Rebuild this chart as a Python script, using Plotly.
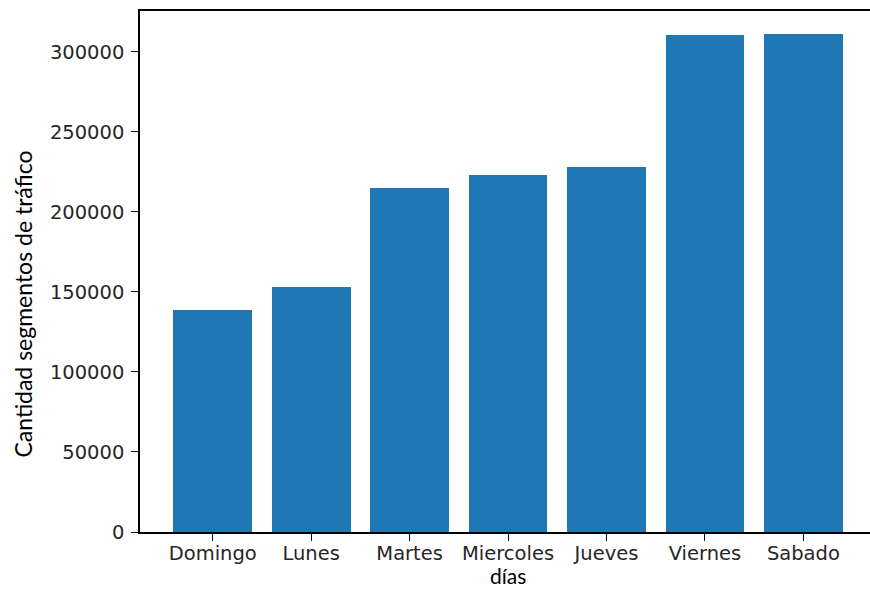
import plotly.graph_objects as go

# Traffic segments counted per weekday
dias = ["Domingo", "Lunes", "Martes", "Miercoles", "Jueves", "Viernes", "Sabado"]
segmentos = [138850, 153030, 214680, 222800, 228170, 310430, 311240]
y_ticks = [0, 50000, 100000, 150000, 200000, 250000, 300000]

W, H = 870, 590
left, right, top, bottom = 139.5, 0, 11, 58
plot_h = H - top - bottom

fig = go.Figure(
    go.Bar(
        x=list(range(len(dias))),
        y=segmentos,
        width=0.8,
        marker=dict(color="#1f77b4", line=dict(width=0)),
    )
)

tick_font = dict(family="DejaVu Sans", size=19.5, color="#262626")

fig.update_layout(
    width=W,
    height=H,
    margin=dict(l=left, r=right, t=top, b=bottom, pad=0),
    plot_bgcolor="white",
    paper_bgcolor="white",
    showlegend=False,
    bargap=0,
    xaxis=dict(
        range=[-0.739, 6.677],
        tickmode="array",
        tickvals=list(range(len(dias))),
        ticktext=dias,
        ticks="outside",
        ticklen=7,
        tickwidth=1.4,
        tickcolor="#000000",
        showline=True,
        linecolor="#000000",
        linewidth=1.5,
        mirror=True,
        showgrid=False,
        zeroline=False,
        tickfont=tick_font,
        ticklabelstandoff=-4,
    ),
    yaxis=dict(
        range=[0, 325420],
        tickmode="array",
        tickvals=y_ticks,
        ticktext=[str(v) for v in y_ticks],
        ticks="outside",
        ticklen=7,
        tickwidth=1.4,
        tickcolor="#000000",
        showline=True,
        linecolor="#000000",
        linewidth=1.5,
        mirror=False,
        showgrid=False,
        zeroline=False,
        tickfont=tick_font,
        ticklabelstandoff=3,
    ),
    annotations=[
        dict(
            text="Cantidad segmentos de tráfico",
            xref="paper", yref="paper",
            x=(22 - left) / (W - left - right),
            y=1 - (304 - top) / plot_h,
            xanchor="center", yanchor="middle",
            textangle=-90,
            showarrow=False,
            font=dict(family="Lato", size=23, color="#000000"),
        ),
        dict(
            text="días",
            xref="paper", yref="paper",
            x=(508 - left) / (W - left - right),
            y=-bottom / plot_h,
            xanchor="center", yanchor="bottom",
            showarrow=False,
            font=dict(family="Lato", size=21, color="#000000"),
        ),
    ],
)

fig.write_html("out.html")
